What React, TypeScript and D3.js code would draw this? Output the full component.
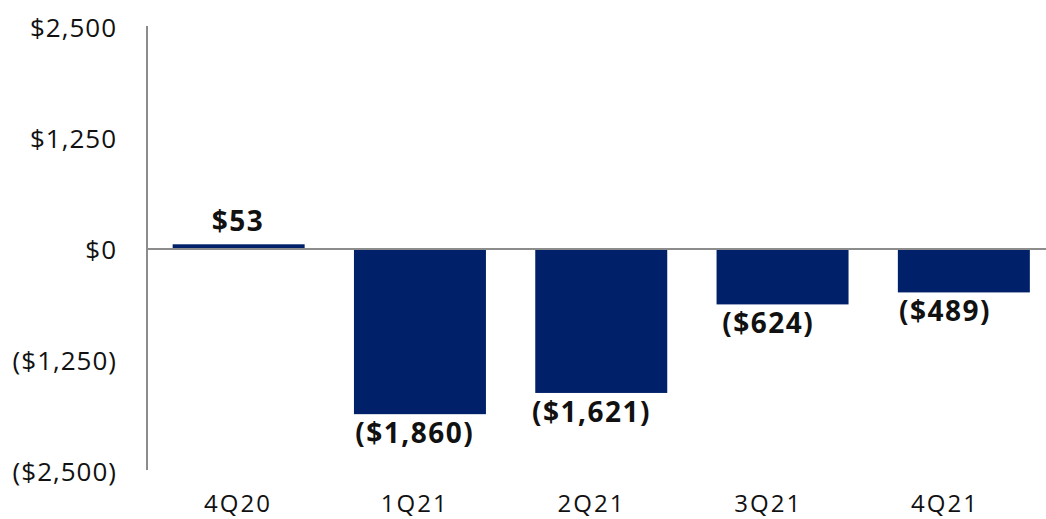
import React from "react";
import * as d3 from "d3";

const categories = ["4Q20", "1Q21", "2Q21", "3Q21", "4Q21"];
const values = [53, -1860, -1621, -624, -489];
const valueLabels = ["$53", "($1,860)", "($1,621)", "($624)", "($489)"];
const tickValues = [2500, 1250, 0, -1250, -2500];
const tickLabels = ["$2,500", "$1,250", "$0", "($1,250)", "($2,500)"];

const W = 1046;
const H = 519;
const FONT = "'Open Sans', 'Noto Sans', sans-serif";
const BAR = "#002169";
const AXIS = "#8c8c8c";

export default function App() {
  const y = d3.scaleLinear().domain([-2500, 2500]).range([471, 27]);
  const x = d3
    .scaleBand<string>()
    .domain(categories)
    .range([148, 1054.5])
    .paddingInner(0.272)
    .paddingOuter(0.136);
  const lx = d3.scalePoint<string>().domain(categories).range([237, 944]);
  const axisX = 147;

  return (
    <svg
      width={W}
      height={H}
      style={{ position: "absolute", left: 0, top: 0, background: "#fff" }}
    >
      <rect x={0} y={0} width={W} height={H} fill="#fff" />
      {categories.map((c, i) => {
        const v = values[i];
        const top = v >= 0 ? y(v) : y(0) + 1;
        const h = v >= 0 ? y(0) - y(v) : y(v) - y(0) - 1;
        return <rect key={c} x={x(c)} y={top} width={x.bandwidth()} height={h} fill={BAR} />;
      })}
      <line x1={axisX} x2={W} y1={y(0)} y2={y(0)} stroke={AXIS} strokeWidth={2} />
      <line x1={axisX} x2={axisX} y1={26} y2={470} stroke={AXIS} strokeWidth={2} />
      {tickValues.map((t, i) => (
        <text
          key={t}
          x={117}
          y={y(t) + 9.5}
          textAnchor="end"
          fontFamily={FONT}
          fontSize={26}
          letterSpacing={1}
          fill="#111"
        >
          {tickLabels[i]}
        </text>
      ))}
      {categories.map((c) => (
        <text
          key={c}
          x={lx(c) + 1}
          y={512}
          textAnchor="middle"
          fontFamily={FONT}
          fontSize={24}
          letterSpacing={2}
          fill="#111"
        >
          {c}
        </text>
      ))}
      {categories.map((c, i) => {
        const v = values[i];
        const yy = v >= 0 ? y(v) - 13 : y(v) + 29;
        return (
          <text
            key={c}
            x={lx(c) + 1}
            y={yy}
            textAnchor="middle"
            fontFamily={FONT}
            fontSize={28}
            letterSpacing={1.5}
            fontWeight="bold"
            fill="#111"
          >
            {valueLabels[i]}
          </text>
        );
      })}
    </svg>
  );
}
